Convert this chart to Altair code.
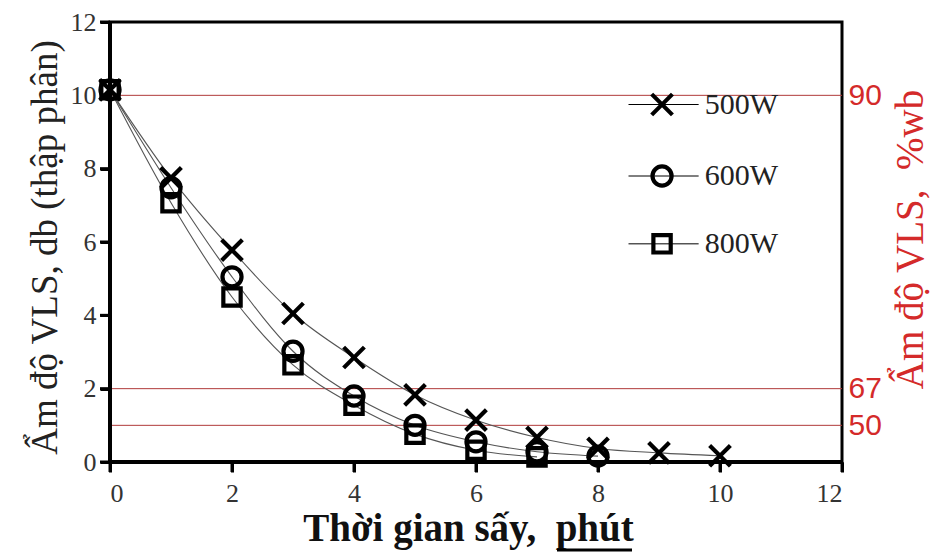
import altair as alt
import pandas as pd

# ---- data ----
SERIES = ["500W", "600W", "800W"]
TIME_500 = [0, 1, 2, 3, 4, 5, 6, 7, 8, 9, 10]
MOIST_500 = [10.15, 7.75, 5.78, 4.05, 2.85, 1.83, 1.14, 0.67, 0.37, 0.25, 0.17]
TIME_600 = [0, 1, 2, 3, 4, 5, 6, 7, 8]
MOIST_600 = [10.15, 7.48, 5.05, 3.02, 1.8, 1.0, 0.55, 0.28, 0.16]
TIME_800 = [0, 1, 2, 3, 4, 5, 6, 7]
MOIST_800 = [10.15, 7.07, 4.5, 2.65, 1.55, 0.76, 0.32, 0.14]

REF_DB = [10, 2, 1]          # db positions of the red reference lines
REF_WB = ["90", "67", "50"]  # %wb labels on the right axis
X_TICKS = [0, 2, 4, 6, 8, 10, 12]
Y_TICKS = [0, 2, 4, 6, 8, 10, 12]
DOMAIN = [0, 12]

rows = []
for s, ts, ms in zip(SERIES, [TIME_500, TIME_600, TIME_800], [MOIST_500, MOIST_600, MOIST_800]):
    for t, m in zip(ts, ms):
        rows.append({"series": s, "t": t, "m": m})
df = pd.DataFrame(rows)

# ---- layout / style ----
W, H = 732, 440
RED = "#d42a2a"
RULE_RED = "#b03a3a"
SERIF = "Liberation Serif"
XPATH = "M-1,-1L1,1M-1,1L1,-1"
shape_scale = alt.Scale(domain=SERIES, range=[XPATH, "circle", "square"])
size_scale = alt.Scale(domain=SERIES, range=[430, 300, 350])

LEG_Y = [9.75, 7.8, 5.95]
leg = pd.DataFrame({"series": SERIES, "y": LEG_Y})
leg["x1"] = 8.5
leg["x2"] = 9.65
leg["xs"] = 9.05
leg["xt"] = 9.75

xs = alt.Scale(domain=DOMAIN, nice=False, zero=False)
ys = alt.Scale(domain=DOMAIN, nice=False, zero=False)

label_expr = " : ".join(
    f"datum.value == {d} ? '{w}'" for d, w in zip(REF_DB[:-1], REF_WB[:-1])
) + f" : '{REF_WB[-1]}'"

x_axis = alt.Axis(
    values=X_TICKS, format="d", title="Thời gian sấy,\u00a0\u00a0phút", grid=False,
    labelFont=SERIF, labelFontSize=26, labelColor="#333", labelPadding=8,
    tickSize=10, tickWidth=3, tickColor="black",
    domainColor="black", domainWidth=3,
    titleFont=SERIF, titleFontSize=39, titleFontWeight="bold", titleColor="#111",
    titleX=358, titleY=78, titleAlign="center", titleBaseline="alphabetic",
)
y_axis = alt.Axis(
    orient="left", values=Y_TICKS, format="d", title="Ẩm độ VLS, db (thập phân)", grid=False,
    labelFont=SERIF, labelFontSize=26, labelColor="#333", labelPadding=4,
    tickSize=10, tickWidth=3, tickColor="black",
    domainColor="black", domainWidth=3,
    titleFont=SERIF, titleFontSize=37, titleFontWeight="normal", titleColor="#222",
    titleX=-65, titleY=225, titleAngle=270, titleAlign="center", titleBaseline="middle",
)
r_axis = alt.Axis(
    orient="right", values=REF_DB, labelExpr=label_expr, grid=False,
    domain=False, ticks=False, labelColor=RED, labelFont="Liberation Sans",
    labelFontSize=30, labelPadding=6,
    title="Ẩm độ VLS,\u00a0\u00a0%wb", titleColor=RED, titleFont=SERIF, titleFontSize=39,
    titleFontWeight="normal", titleAngle=270, titleX=68, titleY=217,
    titleAlign="center", titleBaseline="middle",
)

ref_df = pd.DataFrame({"db": REF_DB, "wb": REF_WB})
rules = alt.Chart(ref_df).mark_rule(color=RULE_RED, strokeWidth=1).encode(
    y=alt.Y("db:Q", scale=ys, axis=r_axis)
)

lines = alt.Chart(df).mark_line(interpolate="monotone", color="#555", strokeWidth=1.1).encode(
    x=alt.X("t:Q", scale=xs, axis=x_axis),
    y=alt.Y("m:Q", scale=ys, axis=y_axis),
    detail="series:N",
)
points = alt.Chart(df).mark_point(filled=False, color="black", strokeWidth=4.2, opacity=1).encode(
    x=alt.X("t:Q"), y=alt.Y("m:Q", axis=None),
    shape=alt.Shape("series:N", scale=shape_scale, legend=None),
    size=alt.Size("series:N", scale=size_scale, legend=None),
)

# tick marks of the left and bottom axes (short strokes drawn as point symbols)
ytick_df = pd.DataFrame({"v": Y_TICKS, "base": DOMAIN[0]})
xtick_df = pd.DataFrame({"v": X_TICKS, "base": DOMAIN[0]})
yticks = alt.Chart(ytick_df).mark_point(
    shape="M-1,0L0,0", size=400, filled=False, color="black", strokeWidth=3, opacity=1
).encode(x=alt.X("base:Q"), y=alt.Y("v:Q", axis=None))
xticks = alt.Chart(xtick_df).mark_point(
    shape="M0,0L0,1", size=400, filled=False, color="black", strokeWidth=3, opacity=1
).encode(x=alt.X("v:Q"), y=alt.Y("base:Q", axis=None))

frame_df = pd.DataFrame({"x0": [DOMAIN[0]], "x1": [DOMAIN[1]], "y0": [DOMAIN[0]], "y1": [DOMAIN[1]]})
yline = alt.Chart(frame_df).mark_rule(color="black", strokeWidth=4).encode(
    x=alt.X("x0:Q"), y=alt.Y("y0:Q", axis=None), y2="y1:Q"
)
xline = alt.Chart(frame_df).mark_rule(color="black", strokeWidth=4).encode(
    x=alt.X("x0:Q"), x2="x1:Q", y=alt.Y("y0:Q", axis=None)
)

leg_line = alt.Chart(leg).mark_rule(color="black", strokeWidth=1).encode(
    x=alt.X("x1:Q"), x2="x2:Q", y=alt.Y("y:Q", axis=None)
)
leg_pts = alt.Chart(leg).mark_point(filled=False, color="black", strokeWidth=4.2, opacity=1).encode(
    x=alt.X("xs:Q"), y=alt.Y("y:Q", axis=None),
    shape=alt.Shape("series:N", scale=shape_scale, legend=None),
    size=alt.Size("series:N", scale=size_scale, legend=None),
)
leg_text = alt.Chart(leg).mark_text(
    align="left", baseline="middle", font=SERIF, fontSize=30, color="#222"
).encode(x=alt.X("xt:Q"), y=alt.Y("y:Q", axis=None), text="series:N")

underline = alt.Chart(pd.DataFrame({"a": [0]})).mark_rule(color="black", strokeWidth=3).encode(
    x=alt.value(447), x2=alt.value(522), y=alt.value(528)
)

chart = (
    alt.layer(rules, lines, points, yticks, xticks, yline, xline,
              leg_line, leg_pts, leg_text, underline)
    .resolve_axis(y="independent")
    .properties(
        width=W, height=H, autosize="none",
        padding={"left": 110, "top": 22, "right": 90, "bottom": 95},
        background="white",
    )
    .configure_view(stroke="black", strokeWidth=3)
)

chart.save("out.html", embed_options={"renderer": "svg", "actions": False})
